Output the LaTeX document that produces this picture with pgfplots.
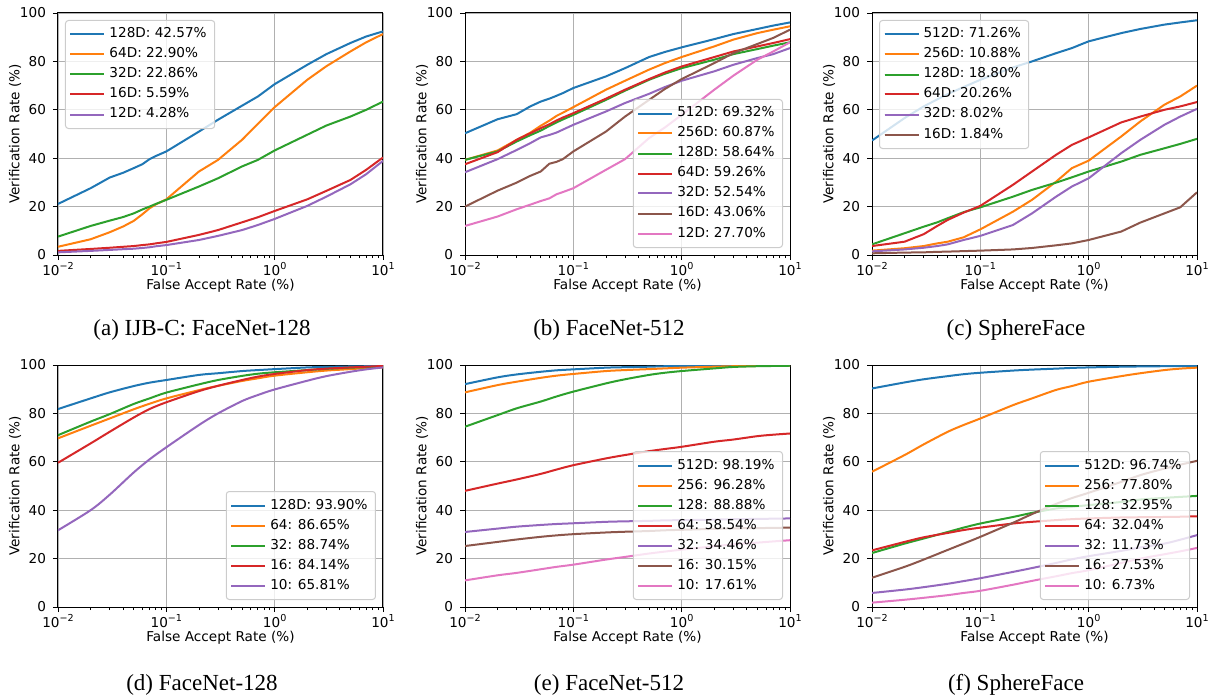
\documentclass[border=0pt]{standalone}
\usepackage{fontspec}
\setmainfont{Liberation Serif}
\newfontfamily\dejavu{DejaVu Sans}
\usepackage{pgfplots}
\pgfplotsset{compat=1.18}
\usepackage{pgfplotstable}

\definecolor{C0}{HTML}{1F77B4}
\definecolor{C1}{HTML}{FF7F0E}
\definecolor{C2}{HTML}{2CA02C}
\definecolor{C3}{HTML}{D62728}
\definecolor{C4}{HTML}{9467BD}
\definecolor{C5}{HTML}{8C564B}
\definecolor{C6}{HTML}{E377C2}
\definecolor{gridgray}{HTML}{B0B0B0}
\definecolor{legendgray}{HTML}{CCCCCC}

\newcommand\tickfont{\fontsize{6.8}{8}\dejavu}
\newcommand\labfont{\fontsize{6.8}{8}\dejavu}
\newcommand\tp[1]{10\raisebox{0.8ex}{\fontsize{4.8}{5.5}\selectfont #1}}

% ROC tables: FAR (%) and verification rate (%) per embedding size
\pgfplotstableread{
x     a    b    c    d    e
0.01  21.1 3.4  7.6  1.7  1.1
0.02  27.6 6.5  12.0 2.5  1.7
0.03  32.0 9.4  14.2 3.0  2.1
0.04  34.0 11.8 15.7 3.4  2.4
0.05  35.9 14.1 17.2 3.7  2.6
0.06  37.5 16.8 18.8 4.1  2.9
0.07  39.6 19.3 20.0 4.4  3.2
0.08  40.9 20.9 21.1 4.8  3.6
0.1   42.8 23.0 22.8 5.4  4.1
0.2   51.0 34.5 28.3 8.3  6.2
0.3   55.9 39.3 31.7 10.3 7.9
0.5   61.7 47.6 36.6 13.5 10.3
0.7   65.5 54.2 39.3 15.6 12.4
1     70.6 61.1 43.2 18.2 14.9
2     78.6 72.4 49.7 23.0 20.3
3     83.0 78.0 53.5 26.5 24.1
5     87.6 84.1 57.2 31.0 29.2
7     90.3 87.9 60.0 35.2 33.4
10    92.4 91.3 63.4 40.3 38.9
}\tabA

\pgfplotstableread{
x     a    b    c    d    e    f    g
0.01  50.3 39.3 39.3 37.5 34.2 20.0 12.0
0.02  56.1 43.2 42.8 42.5 39.6 26.6 15.9
0.03  58.2 47.6 46.9 47.6 43.4 29.9 18.9
0.04  61.4 50.5 49.5 50.3 46.2 32.7 20.8
0.05  63.4 53.4 51.4 52.4 48.6 34.5 22.3
0.06  64.6 55.5 53.3 54.0 49.6 37.7 23.4
0.07  65.8 57.5 54.8 55.6 50.6 38.5 25.1
0.08  66.9 58.8 56.0 56.8 51.8 39.6 26.0
0.1   69.0 61.1 57.9 58.6 53.8 42.8 27.6
0.2   73.8 68.3 64.1 64.6 59.3 51.0 35.2
0.3   77.2 72.0 67.9 68.3 62.8 57.2 39.6
0.5   81.8 76.6 72.4 72.7 66.6 64.1 48.3
0.7   83.9 79.3 74.9 75.4 69.4 68.6 52.7
1     85.8 81.8 77.2 77.9 72.0 72.7 57.9
2     89.2 86.2 80.7 81.8 75.9 79.3 68.3
3     91.3 89.0 83.0 84.1 78.6 83.4 74.1
5     93.4 91.7 85.1 86.2 81.4 87.2 80.7
7     94.8 93.1 86.5 87.6 83.0 89.7 84.1
10    96.1 94.5 87.9 89.2 85.5 93.1 87.9
}\tabB

\pgfplotstableread{
x     a    b    c    d    e    f
0.01  47.3 1.8  4.4  3.7  1.5  0.7
0.02  56.6 2.8  9.0  5.5  2.3  1.0
0.03  61.4 3.7  11.7 8.6  3.0  1.1
0.04  64.3 4.8  13.5 12.0 3.7  1.3
0.05  66.5 5.5  15.2 14.5 4.4  1.4
0.07  69.4 7.3  17.7 17.5 6.2  1.6
0.1   72.4 10.6 19.7 20.3 7.9  1.8
0.2   77.5 17.9 24.1 29.0 12.4 2.3
0.3   80.0 22.8 26.9 34.5 17.2 2.9
0.5   83.4 30.3 29.9 41.4 24.1 4.0
0.7   85.5 35.9 32.1 45.5 28.3 4.8
1     88.3 39.0 34.5 48.6 31.7 6.2
2     91.7 49.0 38.6 54.8 42.1 9.7
3     93.4 55.2 41.4 57.2 47.6 13.4
5     95.2 62.1 44.1 60.0 53.8 17.2
7     96.1 65.5 45.9 61.4 57.2 19.7
10    97.0 70.0 48.0 63.2 60.4 25.9
}\tabC

\pgfplotstableread{
x     a    b    c    d    e
0.01  81.8 69.7 71.0 59.6 31.7
0.02  86.2 74.9 76.6 67.6 40.0
0.03  88.7 77.9 79.7 72.4 46.4
0.05  91.3 81.7 83.9 78.3 55.6
0.07  92.7 84.0 86.2 81.8 61.0
0.1   93.8 86.2 88.6 84.6 66.0
0.2   95.9 89.6 92.0 89.2 75.2
0.3   96.6 91.4 93.8 91.4 80.0
0.5   97.5 93.4 95.5 93.8 85.1
0.7   97.9 94.5 96.4 95.2 87.6
1     98.3 95.6 97.0 96.3 89.9
2     99.0 97.0 97.9 97.9 93.5
3     99.2 97.7 98.4 98.5 95.4
5     99.4 98.3 98.9 99.0 97.2
7     99.5 98.7 99.1 99.3 98.2
10    99.6 99.0 99.3 99.6 99.0
}\tabD

\pgfplotstableread{
x     a    b    c    d    e    f    g
0.01  92.1 88.7 74.5 48.0 31.0 25.2 11.0
0.02  94.9 91.7 79.3 51.0 32.4 26.9 13.1
0.03  96.1 93.1 82.1 52.7 33.2 27.9 14.1
0.05  97.2 94.7 84.9 55.0 33.9 29.0 15.6
0.07  97.8 95.6 87.0 56.8 34.3 29.6 16.6
0.1   98.2 96.3 89.0 58.6 34.6 30.1 17.5
0.2   98.9 97.5 92.4 61.4 35.2 30.8 19.6
0.3   99.1 97.9 94.1 62.8 35.4 31.1 20.7
0.5   99.3 98.3 95.9 64.4 35.6 31.4 22.1
0.7   99.5 98.6 96.8 65.3 35.8 31.7 22.9
1     99.6 98.9 97.5 66.2 35.9 31.9 23.7
2     99.7 99.3 98.6 68.3 36.1 32.3 25.1
3     99.7 99.5 99.2 69.2 36.3 32.5 25.9
5     99.7 99.6 99.5 70.6 36.4 32.6 26.6
7     99.7 99.7 99.6 71.2 36.5 32.7 27.1
10    99.7 99.7 99.7 71.7 36.6 32.8 27.6
}\tabE

\pgfplotstableread{
x     a    b    c    d    e    f    g
0.01  90.3 55.9 22.3 23.4 5.8  12.1 1.8
0.02  92.8 62.8 26.2 26.9 7.2  16.6 3.0
0.03  94.1 67.2 28.3 28.8 8.2  19.6 3.8
0.05  95.4 72.4 31.0 30.6 9.6  23.6 4.9
0.07  96.2 75.2 32.8 31.8 10.7 26.2 5.8
0.1   96.8 77.9 34.5 32.8 11.9 29.0 6.7
0.2   97.7 83.4 37.2 34.5 14.5 34.8 9.2
0.3   98.1 86.2 38.9 35.2 16.1 38.4 10.8
0.5   98.5 89.7 40.7 35.9 18.2 42.6 12.7
0.7   98.8 91.3 41.4 36.3 19.7 45.0 14.0
1     99.0 93.1 42.1 36.6 21.0 47.2 15.2
2     99.3 95.4 43.4 37.0 23.2 51.7 18.2
3     99.4 96.6 44.4 37.1 24.6 54.5 20.0
5     99.5 97.9 45.1 37.2 26.2 57.2 21.8
7     99.5 98.5 45.5 37.3 27.8 58.8 23.0
10    99.6 98.9 45.9 37.5 29.7 60.4 24.4
}\tabF

% shared look of all six ROC panels
\pgfplotsset{
  legend image code/.code={\draw[#1, line width=1pt] (0pt,0pt) -- (14pt,0pt);
                           \path (0pt,0pt) -- (17pt,0pt);},
  every axis/.append style={
    scale only axis, width=162.5pt, height=121pt,
    xmin=0.01, xmax=10, ymin=0, ymax=100,
    xtick={0.01,0.1,1,10},
    xticklabels={\tp{−2},\tp{−1},\tp{0},\tp{1}},
    minor xtick={0.02,0.03,0.04,0.05,0.06,0.07,0.08,0.09,
                 0.2,0.3,0.4,0.5,0.6,0.7,0.8,0.9,2,3,4,5,6,7,8,9},
    ytick={0,20,40,60,80,100},
    yticklabels={0,20,40,60,80,100},
    grid=major,
    major grid style={line width=0.4pt, draw=gridgray},
    tick align=outside, tick pos=left,
    major tick length=2.5pt, minor tick length=1.5pt,
    axis line style={line width=0.5pt},
    tick label style={font=\tickfont},
    xticklabel style={yshift=2.5pt},
    xlabel={False Accept Rate (\%)},
    ylabel={Verification Rate (\%)},
    label style={font=\labfont},
    legend cell align=left,
  },
  every tick/.style={black, line width=0.4pt},
  every axis x label/.style={at={(axis description cs:0.5,-0.126)}, anchor=center},
  every axis y label/.style={at={(axis description cs:-0.1323,0.5)}, rotate=90, anchor=center},
  every axis plot/.append style={line width=1pt, mark=none},
  every axis legend/.append style={font=\labfont, draw=legendgray, line width=0.5pt,
    rounded corners=1.5pt, fill=white, fill opacity=0.8, text opacity=1,
    inner xsep=2pt, inner ysep=2pt,
    nodes={text height=5pt, text depth=1.5pt, inner ysep=1.75pt}},
  legUL/.style={legend style={at={(0,1)}, anchor=north west, xshift=3.5pt, yshift=-3.5pt}},
  legLR/.style={legend style={at={(1,0)}, anchor=south east, xshift=-3.5pt, yshift=3.5pt}},
}

\begin{document}
\begin{tikzpicture}
\tikzset{figcap/.style={anchor=base, font=\fontsize{11.5}{13}\selectfont}}

% (a)
\begin{semilogxaxis}[legUL, at={(29pt,-127.5pt)}, anchor=south west]
\addplot[C0] table[x=x,y=a]{\tabA}; \addlegendentry{128D: 42.57\%}
\addplot[C1] table[x=x,y=b]{\tabA}; \addlegendentry{64D: 22.90\%}
\addplot[C2] table[x=x,y=c]{\tabA}; \addlegendentry{32D: 22.86\%}
\addplot[C3] table[x=x,y=d]{\tabA}; \addlegendentry{16D: 5.59\%}
\addplot[C4] table[x=x,y=e]{\tabA}; \addlegendentry{12D: 4.28\%}
\end{semilogxaxis}

% (b)
\begin{semilogxaxis}[legLR, at={(232.5pt,-127.5pt)}, anchor=south west]
\addplot[C0] table[x=x,y=a]{\tabB}; \addlegendentry{512D: 69.32\%}
\addplot[C1] table[x=x,y=b]{\tabB}; \addlegendentry{256D: 60.87\%}
\addplot[C2] table[x=x,y=c]{\tabB}; \addlegendentry{128D: 58.64\%}
\addplot[C3] table[x=x,y=d]{\tabB}; \addlegendentry{64D: 59.26\%}
\addplot[C4] table[x=x,y=e]{\tabB}; \addlegendentry{32D: 52.54\%}
\addplot[C5] table[x=x,y=f]{\tabB}; \addlegendentry{16D: 43.06\%}
\addplot[C6] table[x=x,y=g]{\tabB}; \addlegendentry{12D: 27.70\%}
\end{semilogxaxis}

% (c)
\begin{semilogxaxis}[legUL, at={(436pt,-127.5pt)}, anchor=south west]
\addplot[C0] table[x=x,y=a]{\tabC}; \addlegendentry{512D: 71.26\%}
\addplot[C1] table[x=x,y=b]{\tabC}; \addlegendentry{256D: 10.88\%}
\addplot[C2] table[x=x,y=c]{\tabC}; \addlegendentry{128D: 18.80\%}
\addplot[C3] table[x=x,y=d]{\tabC}; \addlegendentry{64D: 20.26\%}
\addplot[C4] table[x=x,y=e]{\tabC}; \addlegendentry{32D: 8.02\%}
\addplot[C5] table[x=x,y=f]{\tabC}; \addlegendentry{16D: 1.84\%}
\end{semilogxaxis}

% (d)
\begin{semilogxaxis}[legLR, at={(29pt,-303.5pt)}, anchor=south west]
\addplot[C0, smooth] table[x=x,y=a]{\tabD}; \addlegendentry{128D: 93.90\%}
\addplot[C1, smooth] table[x=x,y=b]{\tabD}; \addlegendentry{64: 86.65\%}
\addplot[C2, smooth] table[x=x,y=c]{\tabD}; \addlegendentry{32: 88.74\%}
\addplot[C3, smooth] table[x=x,y=d]{\tabD}; \addlegendentry{16: 84.14\%}
\addplot[C4, smooth] table[x=x,y=e]{\tabD}; \addlegendentry{10: 65.81\%}
\end{semilogxaxis}

% (e)
\begin{semilogxaxis}[legLR, at={(232.5pt,-303.5pt)}, anchor=south west]
\addplot[C0, smooth] table[x=x,y=a]{\tabE}; \addlegendentry{512D: 98.19\%}
\addplot[C1, smooth] table[x=x,y=b]{\tabE}; \addlegendentry{256: 96.28\%}
\addplot[C2, smooth] table[x=x,y=c]{\tabE}; \addlegendentry{128: 88.88\%}
\addplot[C3, smooth] table[x=x,y=d]{\tabE}; \addlegendentry{64: 58.54\%}
\addplot[C4, smooth] table[x=x,y=e]{\tabE}; \addlegendentry{32: 34.46\%}
\addplot[C5, smooth] table[x=x,y=f]{\tabE}; \addlegendentry{16: 30.15\%}
\addplot[C6, smooth] table[x=x,y=g]{\tabE}; \addlegendentry{10: 17.61\%}
\end{semilogxaxis}

% (f)
\begin{semilogxaxis}[legLR, at={(436pt,-303.5pt)}, anchor=south west]
\addplot[C0, smooth] table[x=x,y=a]{\tabF}; \addlegendentry{512D: 96.74\%}
\addplot[C1, smooth] table[x=x,y=b]{\tabF}; \addlegendentry{256: 77.80\%}
\addplot[C2, smooth] table[x=x,y=c]{\tabF}; \addlegendentry{128: 32.95\%}
\addplot[C3, smooth] table[x=x,y=d]{\tabF}; \addlegendentry{64: 32.04\%}
\addplot[C4, smooth] table[x=x,y=e]{\tabF}; \addlegendentry{32: 11.73\%}
\addplot[C5, smooth] table[x=x,y=f]{\tabF}; \addlegendentry{16: 27.53\%}
\addplot[C6, smooth] table[x=x,y=g]{\tabF}; \addlegendentry{10: 6.73\%}
\end{semilogxaxis}

\node[figcap] at (101pt,-167.5pt) {(a) IJB-C: FaceNet-128};
\node[figcap] at (304.5pt,-167.5pt) {(b) FaceNet-512};
\node[figcap] at (508pt,-167.5pt) {(c) SphereFace};
\node[figcap] at (101pt,-345pt) {(d) FaceNet-128};
\node[figcap] at (304.5pt,-345pt) {(e) FaceNet-512};
\node[figcap] at (508pt,-345pt) {(f) SphereFace};

\pgfresetboundingbox
\path[use as bounding box] (0pt,0pt) rectangle (607pt,-350pt);
\end{tikzpicture}
\end{document}
